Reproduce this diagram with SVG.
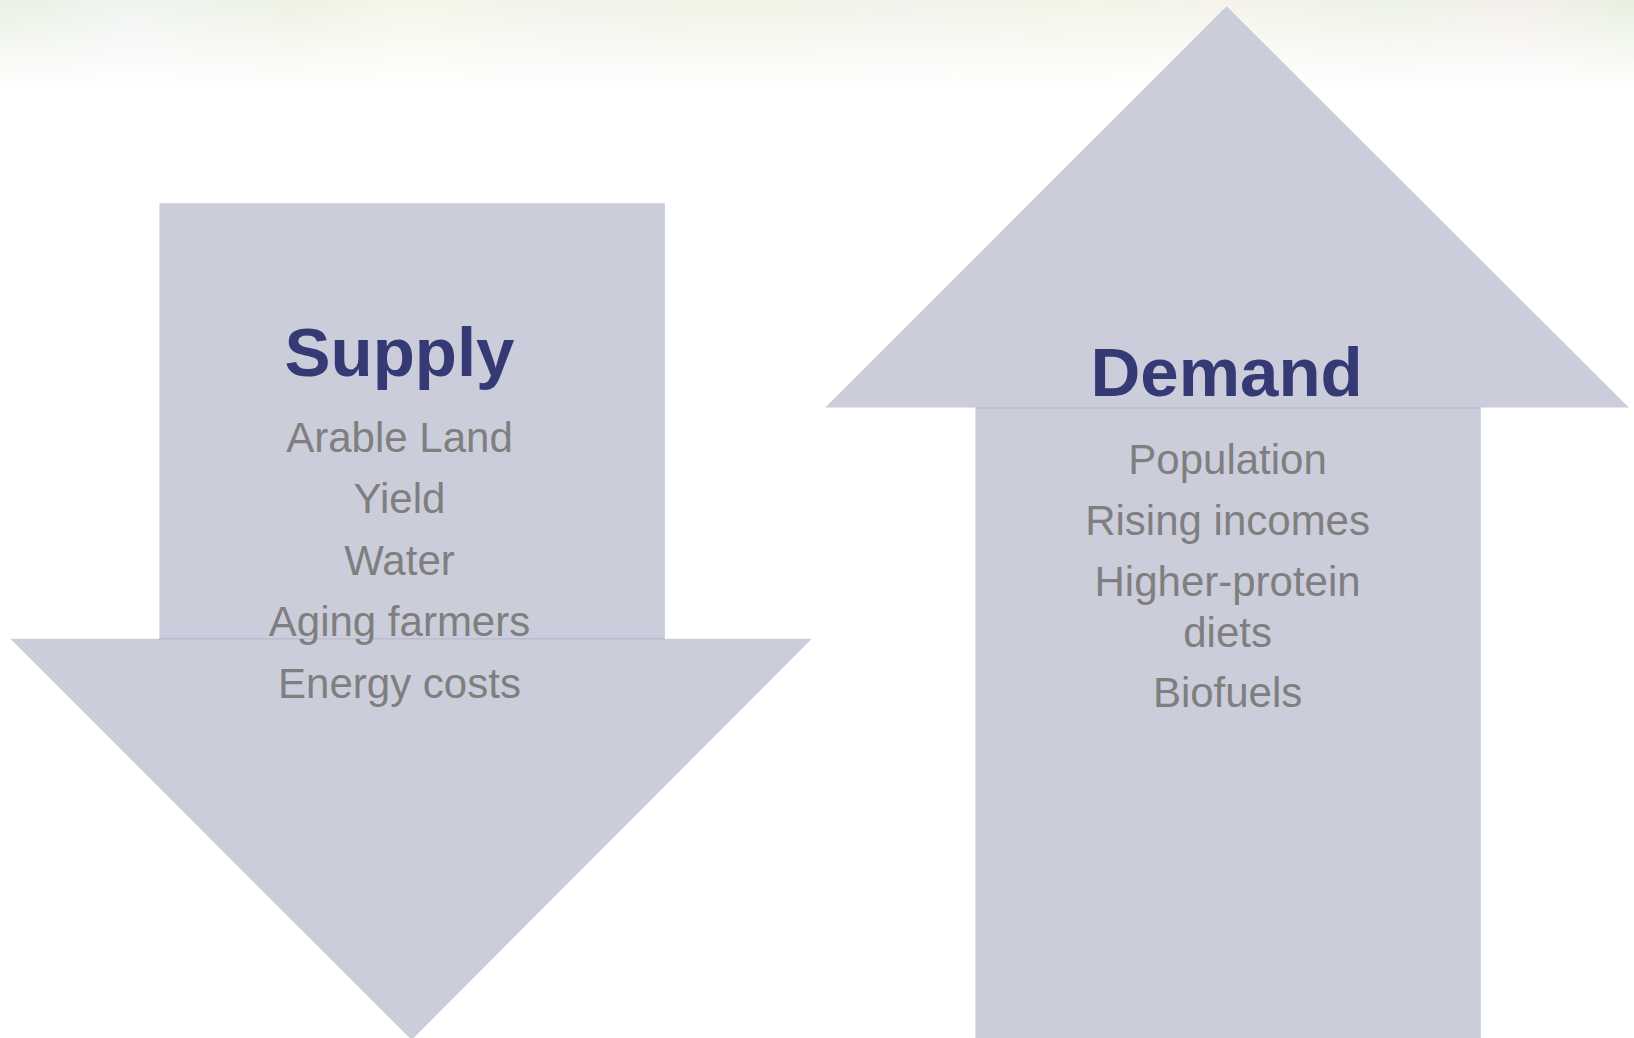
<svg xmlns="http://www.w3.org/2000/svg" width="1634" height="1038" viewBox="0 0 1634 1038">
  <defs>
    <linearGradient id="hues" x1="0" y1="0" x2="1" y2="0">
      <stop offset="0" stop-color="#e9f0e2"/>
      <stop offset="0.08" stop-color="#f0f4f0"/>
      <stop offset="0.18" stop-color="#edf2e3"/>
      <stop offset="0.25" stop-color="#f4f7e8"/>
      <stop offset="0.35" stop-color="#eff3ea"/>
      <stop offset="0.45" stop-color="#f1f3e4"/>
      <stop offset="0.55" stop-color="#f3f1eb"/>
      <stop offset="0.65" stop-color="#f1f5e6"/>
      <stop offset="0.75" stop-color="#f5f3ea"/>
      <stop offset="0.85" stop-color="#edf2e6"/>
      <stop offset="0.93" stop-color="#f4efeb"/>
      <stop offset="1" stop-color="#e8f0df"/>
    </linearGradient>
    <linearGradient id="fade" x1="0" y1="0" x2="0" y2="1">
      <stop offset="0" stop-color="#fff" stop-opacity="1"/>
      <stop offset="0.5" stop-color="#fff" stop-opacity="0.5"/>
      <stop offset="1" stop-color="#fff" stop-opacity="0"/>
    </linearGradient>
    <mask id="fadeMask" maskUnits="userSpaceOnUse" x="0" y="0" width="1634" height="90">
      <rect x="0" y="0" width="1634" height="90" fill="url(#fade)"/>
    </mask>
    <style>
      .shape { fill: #cbcddb; }
      .seam { stroke: #b9bcd2; stroke-width: 1.5; }
      .title { font-family: "Liberation Sans", Arial, sans-serif; font-weight: bold; font-size: 69px; fill: #353a74; text-anchor: middle; }
      .item { font-family: "Liberation Sans", Arial, sans-serif; font-size: 42px; fill: #7f7f7f; text-anchor: middle; }
    </style>
  </defs>

  <rect x="0" y="0" width="1634" height="1038" fill="#ffffff"/>
  <rect x="0" y="0" width="1634" height="90" fill="url(#hues)" mask="url(#fadeMask)"/>

  <g id="supply">
    <rect class="shape" x="159.4" y="203.2" width="505.5" height="436"/>
    <polygon class="shape" points="10.4,638.8 811.8,638.8 411.6,1040"/>
    <line class="seam" x1="159.4" y1="638.8" x2="664.9" y2="638.8"/>
    <text class="title" x="399.5" y="375.5">Supply</text>
    <text class="item" x="399.5" y="451.7">Arable Land</text>
    <text class="item" x="399.5" y="513.3">Yield</text>
    <text class="item" x="399.5" y="575">Water</text>
    <text class="item" x="399.5" y="636">Aging farmers</text>
    <text class="item" x="399.5" y="697.7">Energy costs</text>
  </g>

  <g id="demand">
    <polygon class="shape" points="1226.6,6.3 1628.8,407.5 825.3,407.5"/>
    <rect class="shape" x="975.4" y="407.5" width="505.4" height="640"/>
    <line class="seam" x1="975.4" y1="408" x2="1480.8" y2="408"/>
    <text class="title" x="1226.6" y="395.5">Demand</text>
    <text class="item" x="1227.6" y="474">Population</text>
    <text class="item" x="1227.6" y="535">Rising incomes</text>
    <text class="item" x="1227.6" y="596">Higher-protein</text>
    <text class="item" x="1227.6" y="646.7">diets</text>
    <text class="item" x="1227.6" y="707.3">Biofuels</text>
  </g>

  <g id="connectors"/>
</svg>
